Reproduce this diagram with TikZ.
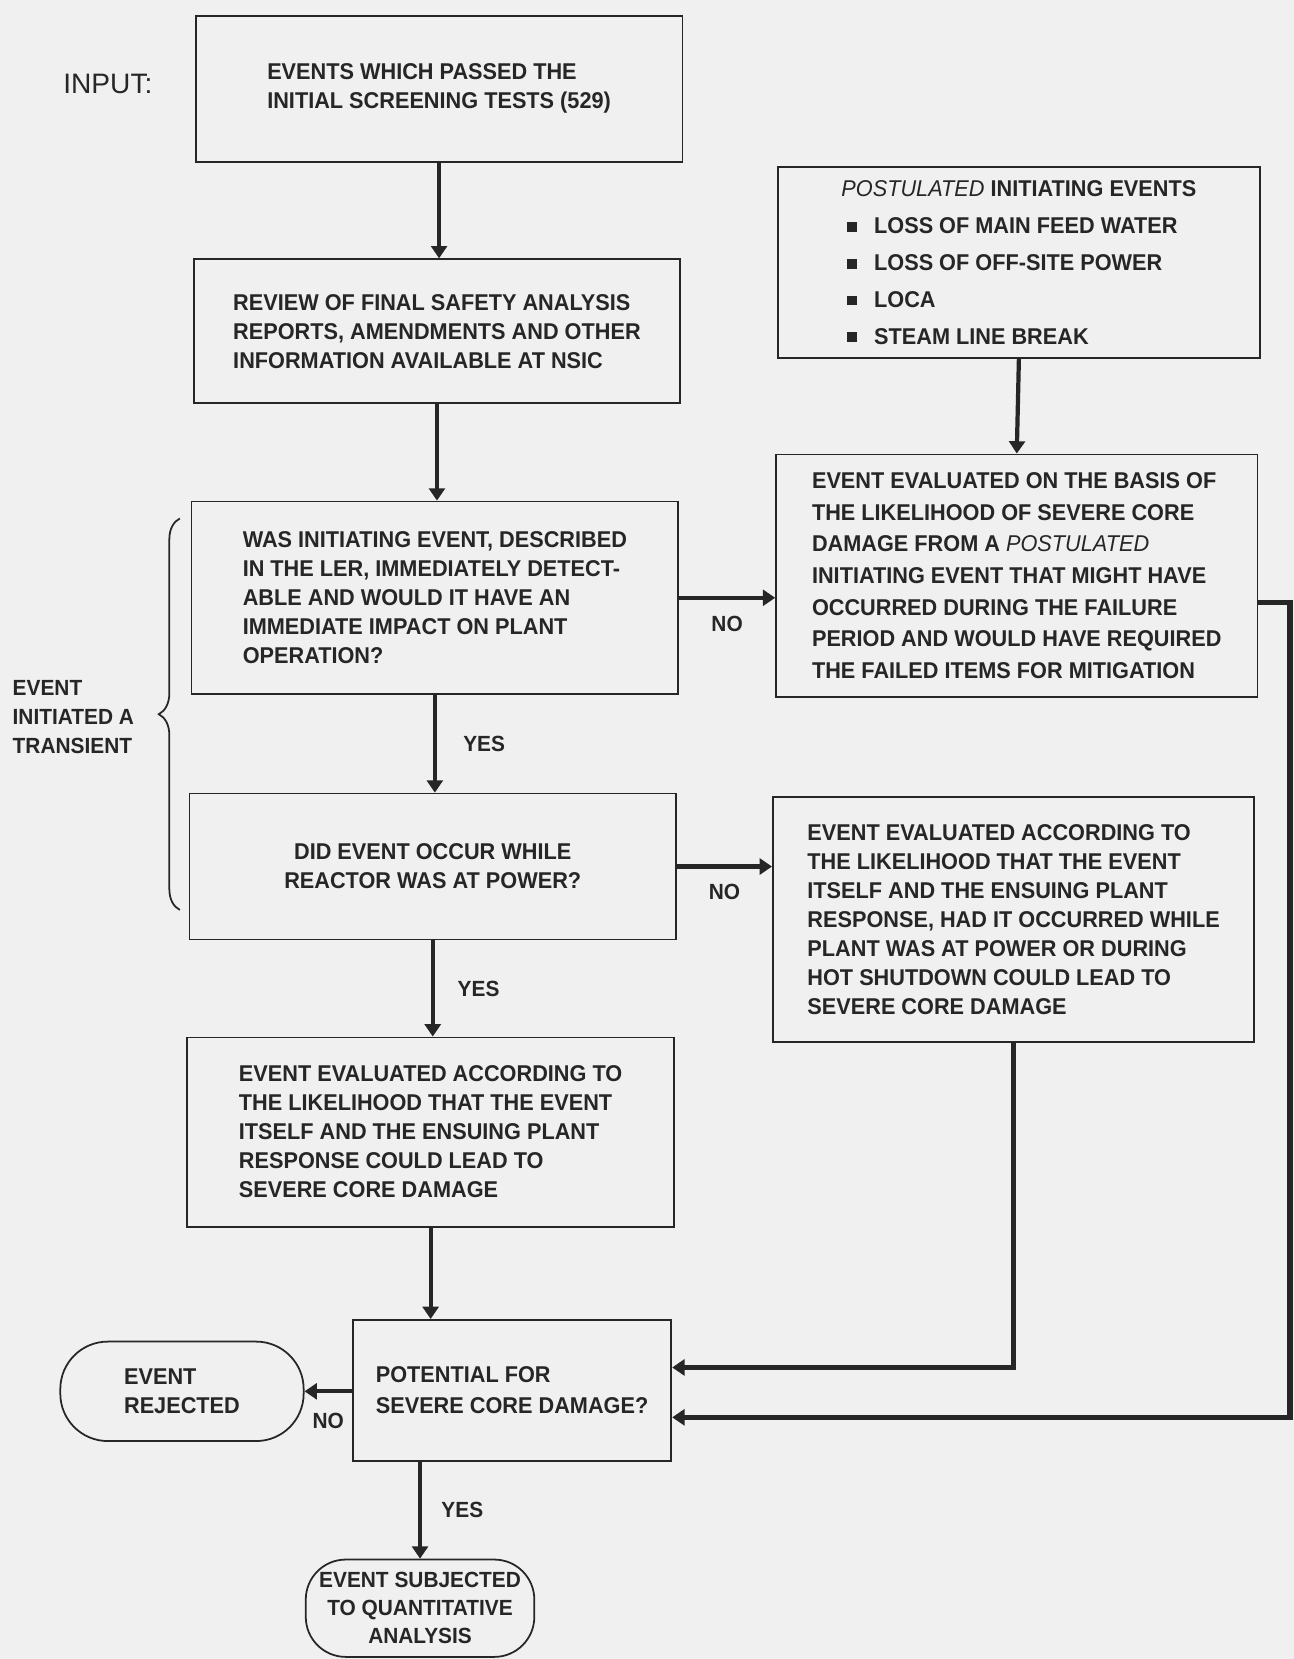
\documentclass[tikz,border=0pt]{standalone}
\usepackage{fontspec}
\setmainfont{Liberation Sans}[FakeStretch=0.95]
\newfontfamily\plainsans{Liberation Sans}
\usetikzlibrary{arrows.meta,calc,decorations.pathreplacing}
\newcommand{\pxu}{0.02116cm}
\newcommand{\sqbullet}{\hspace*{3pt}\rule[1pt]{5.6pt}{5.6pt}\hspace{10pt}}
\tikzset{
  flowbox/.style 2 args={rectangle, draw=black!85, line width=1pt, inner sep=0pt,
    minimum width=#1*\pxu, minimum height=#2*\pxu, align=left, text=black!85,
    font=\fontsize{13}{16.5}\selectfont\bfseries},
  termbox/.style 2 args={flowbox={#1}{#2}, rounded corners=0.8cm},
  tag/.style={font=\fontsize{12.5}{15}\selectfont\bfseries, text=black!85, inner sep=1pt},
  flow/.style={-{Triangle[length=7pt,width=9pt]}, line width=2.4pt, draw=black!85},
  heavy/.style={flow, line width=3.2pt},
}
\begin{document}
\begin{tikzpicture}[x=\pxu, y=-\pxu]
  \fill[black!6] (0,0) rectangle (1223,1568);
  \useasboundingbox (0,0) rectangle (1223,1568);
  \node[font=\plainsans\fontsize{16}{18}\selectfont, text=black!85, anchor=west] (inlabel) at (54,79) {INPUT:};
  \node[flowbox={460}{138}] (input) at (415,84) {EVENTS WHICH PASSED THE\\INITIAL SCREENING TESTS (529)};
  \node[flowbox={460}{136}] (review) at (413,313) {REVIEW OF FINAL SAFETY ANALYSIS\\REPORTS, AMENDMENTS AND OTHER\\INFORMATION AVAILABLE AT NSIC};
  \node[flowbox={460}{182}] (detect) at (411,565) {WAS INITIATING EVENT, DESCRIBED\\IN THE LER, IMMEDIATELY DETECT-\\ABLE AND WOULD IT HAVE AN\\IMMEDIATE IMPACT ON PLANT\\OPERATION?};
  \node[flowbox={460}{138}, align=center] (power) at (409,819) {DID EVENT OCCUR WHILE\\REACTOR WAS AT POWER?};
  \node[flowbox={460}{179}] (evalactual) at (407,1070) {EVENT EVALUATED ACCORDING TO\\THE LIKELIHOOD THAT THE EVENT\\ITSELF AND THE ENSUING PLANT\\RESPONSE COULD LEAD TO\\SEVERE CORE DAMAGE};
  \node[flowbox={301}{133}, font=\fontsize{13}{17.5}\selectfont\bfseries] (potential) at (484,1314) {POTENTIAL FOR\\SEVERE CORE DAMAGE?};
  \node[termbox={230}{94}, rounded corners=0.95cm] (rejected) at (172,1315) {EVENT\\REJECTED};
  \node[termbox={216}{92}, align=center, font=\fontsize{12.5}{16}\selectfont\bfseries] (quant) at (397,1520) {EVENT SUBJECTED\\TO QUANTITATIVE\\ANALYSIS};
  \node[flowbox={456}{181}, font=\fontsize{13}{21}\selectfont\bfseries] (postulated) at (963,248) {{\mdseries\itshape POSTULATED} INITIATING EVENTS\\
    \sqbullet LOSS OF MAIN FEED WATER\\\sqbullet LOSS OF OFF-SITE POWER\\\sqbullet LOCA\\\sqbullet STEAM LINE BREAK};
  \node[flowbox={455}{229}, font=\fontsize{13}{18}\selectfont\bfseries] (evalpost) at (961,544) {EVENT EVALUATED ON THE BASIS OF\\THE LIKELIHOOD OF SEVERE CORE\\DAMAGE FROM A {\mdseries\itshape POSTULATED}\\INITIATING EVENT THAT MIGHT HAVE\\OCCURRED DURING THE FAILURE\\PERIOD AND WOULD HAVE REQUIRED\\THE FAILED ITEMS FOR MITIGATION};
  \node[flowbox={455}{232}] (evalshut) at (958,869) {EVENT EVALUATED ACCORDING TO\\THE LIKELIHOOD THAT THE EVENT\\ITSELF AND THE ENSUING PLANT\\RESPONSE, HAD IT OCCURRED WHILE\\PLANT WAS AT POWER OR DURING\\HOT SHUTDOWN COULD LEAD TO\\SEVERE CORE DAMAGE};
  \node[tag, align=left, anchor=west, font=\fontsize{12.5}{16.5}\selectfont\bfseries] (transient) at (10,678) {EVENT\\INITIATED A\\TRANSIENT};
  \draw[black!85, line width=1pt, decorate, decoration={brace, amplitude=12pt}] (170,860) -- (170,490);
  \coordinate (rightedge) at (1219,0);
  \draw[flow] (input.south) -- (input.south |- review.north);
  \draw[flow] (review.south) -- (review.south |- detect.north);
  \draw[flow] (detect.south) -- node[tag, right=14pt] (yesa) {YES} (detect.south |- power.north);
  \draw[flow] (power.south) -- node[tag, right=12pt] (yesb) {YES} (power.south |- evalactual.north);
  \draw[flow] (evalactual.south) -- (evalactual.south |- potential.north);
  \draw[flow] (quant.north |- potential.south) -- node[tag, right=10pt] (yesc) {YES} (quant.north);
  \draw[flow] (potential.west |- rejected.east) -- node[tag, below=10pt] (nob) {NO} (rejected.east);
  \draw[flow] (detect.east) -- node[tag, below=8pt] (noa) {NO} (detect.east -| evalpost.west);
  \draw[flow] (power.east) -- node[tag, below=8pt] (noc) {NO} (power.east -| evalshut.west);
  \draw[flow] (postulated.south) -- (evalpost.north);
  \draw[heavy] ($(evalpost.south east)!0.39!(evalpost.north east)$) coordinate (loopstart)
    -- (loopstart -| rightedge) |- ($(potential.south east)!0.31!(potential.north east)$);
  \draw[heavy] (evalshut.south) |- ($(potential.south east)!0.66!(potential.north east)$);
\end{tikzpicture}
\end{document}
